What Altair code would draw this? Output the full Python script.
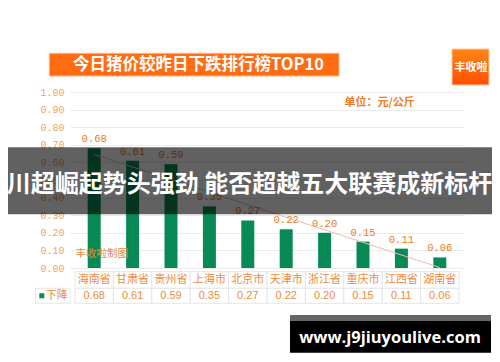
import altair as alt
import pandas as pd

# ---- data ----
provinces = ["海南省", "甘肃省", "贵州省", "上海市", "北京市", "天津市", "浙江省", "重庆市", "江西省", "湖南省"]
drops = [0.68, 0.61, 0.59, 0.35, 0.27, 0.22, 0.20, 0.15, 0.11, 0.06]
y_ticks = [0.0, 0.1, 0.2, 0.3, 0.4, 0.5, 0.6, 0.7, 0.8, 0.9, 1.0]

title_text = "今日猪价较昨日下跌排行榜TOP10"
badge_text = "丰收啦"
unit_text = "单位：元/公斤"
credit_text = "丰收啦制图"
series_name = "下降"
banner_text = "川超崛起势头强劲 能否超越五大联赛成新标杆"
site_text = "www.j9jiuyoulive.com"

df = pd.DataFrame({
    "idx": list(range(1, len(provinces) + 1)),
    "prov": provinces,
    "val": drops,
    "lbl": [f"{v:.2f}" for v in drops],
})
one = pd.DataFrame({"k": [0]})

ORANGE_AXIS = "#F4A25E"
ORANGE_LBL = "#EE7A25"
ORANGE_TBL = "#EF8A3C"
GREEN = "#078A55"
BORDER = "#E6E6E6"
CJK = "Noto Sans CJK SC"

xs = alt.Scale(domain=[0.5, 10.5], nice=False, zero=False)
X = lambda f: alt.X(f, scale=xs, axis=None)
ys = alt.Scale(domain=[0, 1], nice=False)
yaxis = alt.Axis(
    values=y_ticks, format=".2f", grid=True, gridColor="#EBEBEB",
    domain=False, ticks=False, labelColor=ORANGE_AXIS,
    labelFont="Liberation Mono", labelFontSize=10, labelPadding=6,
    labelOverlap=False, labelBound=False, labelFlush=False,
    title=None, zindex=0)
Y = lambda f: alt.Y(f, scale=ys, axis=yaxis)

base = alt.Chart(df)

bars = base.mark_bar(size=13, color=GREEN).encode(x=X("idx:Q"), y=Y("val:Q"))

trend = base.transform_regression("idx", "val").mark_line(
    color="#E8BDB7", strokeWidth=1
).encode(x=X("idx:Q"), y=Y("val:Q"))

bar_labels = base.mark_text(
    dy=-9, color=ORANGE_LBL, font="Liberation Mono", fontSize=10.5, baseline="middle"
).encode(x=X("idx:Q"), y=Y("val:Q"), text="lbl:N")

cells = base.transform_calculate(
    x0="datum.idx - 0.5", x1="datum.idx + 0.5"
)
cat_cells = cells.mark_rect(fill="white", stroke=BORDER, strokeWidth=1).encode(
    x=X("x0:Q"), x2="x1:Q", y=alt.value(179.7), y2=alt.value(196.3))
val_cells = cells.mark_rect(fill="white", stroke=BORDER, strokeWidth=1).encode(
    x=X("x0:Q"), x2="x1:Q", y=alt.value(196.3), y2=alt.value(211.3))
left_cell = alt.Chart(one).mark_rect(fill="white", stroke=BORDER, strokeWidth=1).encode(
    x=alt.value(-34.3), x2=alt.value(0), y=alt.value(196.3), y2=alt.value(211.3))

cat_text = base.mark_text(color=ORANGE_TBL, font=CJK, fontSize=11, baseline="middle").encode(
    x=X("idx:Q"), y=alt.value(188.2), text="prov:N")
val_text = base.mark_text(color=ORANGE_TBL, font="Liberation Sans", fontSize=11, baseline="middle").encode(
    x=X("idx:Q"), y=alt.value(203.8), text="lbl:N")

legend_sq = alt.Chart(one).mark_rect(color=GREEN).encode(
    x=alt.value(-30.7), x2=alt.value(-25.7), y=alt.value(201.3), y2=alt.value(206.3))
legend_txt = alt.Chart(one).mark_text(
    text=series_name, color=ORANGE_TBL, font=CJK, fontSize=11, baseline="middle"
).encode(x=alt.value(-13.3), y=alt.value(203.8))

title_box = alt.Chart(one).mark_rect(color="#FF6C11", stroke="#FFB585", strokeWidth=1).encode(
    x=alt.value(-20.7), x2=alt.value(269), y=alt.value(-38.7), y2=alt.value(-16))
title_txt = alt.Chart(one).mark_text(
    text=title_text, color="white", font=CJK, fontSize=16.5, fontWeight="bold", baseline="middle"
).encode(x=alt.value(128.5), y=alt.value(-26.8))

badge_box = alt.Chart(one).mark_rect(
    color=alt.LinearGradient(
        gradient="linear",
        stops=[alt.GradientStop(color="#FF8615", offset=0), alt.GradientStop(color="#FF4E00", offset=1)],
        x1=0, x2=0, y1=0, y2=1),
    stroke="#FFC9A0", strokeWidth=1,
).encode(x=alt.value(382), x2=alt.value(419), y=alt.value(-43), y2=alt.value(-7))
badge_txt = alt.Chart(one).mark_text(
    text=badge_text, color="white", font=CJK, fontSize=11, fontWeight="bold", baseline="middle"
).encode(x=alt.value(401), y=alt.value(-24.5))

unit_txt = alt.Chart(one).mark_text(
    text=unit_text, color=ORANGE_LBL, font=CJK, fontSize=11, fontWeight="bold", baseline="middle"
).encode(x=alt.value(309.7), y=alt.value(10.5))

credit_txt = alt.Chart(one).mark_text(
    text=credit_text, color="#E98A40", font=CJK, fontSize=10.5, baseline="middle"
).encode(x=alt.value(31.8), y=alt.value(162))

banner = alt.Chart(one).mark_rect(color="black", opacity=0.62).encode(
    x=alt.value(-64), x2=alt.value(424), y=alt.value(55.3), y2=alt.value(122.3))
banner_txt = alt.Chart(one).mark_text(
    text=banner_text, color="white", font=CJK, fontSize=24, fontWeight="bold", baseline="middle"
).encode(x=alt.value(179.5), y=alt.value(93))

site_strip = alt.Chart(one).mark_rect(color="#666666").encode(
    x=alt.value(220), x2=alt.value(421), y=alt.value(223), y2=alt.value(228.7))
site_box = alt.Chart(one).mark_rect(color="black").encode(
    x=alt.value(220), x2=alt.value(421), y=alt.value(228.7), y2=alt.value(260.7))
site_txt = alt.Chart(one).mark_text(
    text=site_text, color="white", font="Open Sans", fontSize=16.5, fontWeight="bold", baseline="middle"
).encode(x=alt.value(320), y=alt.value(245.5))

chart = alt.layer(
    bars, trend, bar_labels,
    cat_cells, val_cells, left_cell, cat_text, val_text, legend_sq, legend_txt,
    title_box, title_txt, badge_box, badge_txt, unit_txt, credit_txt,
    banner, banner_txt, site_strip, site_box, site_txt,
).properties(
    width=394, height=176,
    autosize=alt.AutoSizeParams(type="none"),
    padding={"left": 62, "top": 84, "right": 28, "bottom": 86},
    background="white",
).configure_view(stroke=None)

chart.save("out.html", embed_options={"renderer": "svg", "actions": False})
